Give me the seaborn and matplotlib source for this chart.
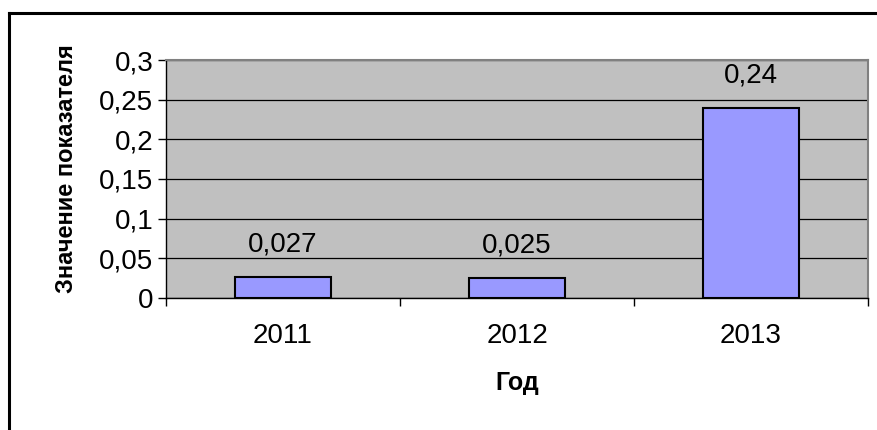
import matplotlib
matplotlib.use("Agg")
import matplotlib.pyplot as plt
from matplotlib.lines import Line2D
import seaborn as sns
import pandas as pd

years = ["2011", "2012", "2013"]
values = [0.027, 0.025, 0.24]
value_labels = ["0,027", "0,025", "0,24"]
y_ticks = [0, 0.05, 0.1, 0.15, 0.2, 0.25, 0.3]
y_tick_labels = ["0", "0,05", "0,1", "0,15", "0,2", "0,25", "0,3"]

plt.rcParams["font.family"] = ["Liberation Sans", "DejaVu Sans"]

W, H = 877, 430
fig = plt.figure(figsize=(W / 100, H / 100), dpi=100)
fig.patch.set_facecolor("white")

# chart-area frame: top and left edges
fig.add_artist(Line2D([9 / W, 1], [1 - 13 / H, 1 - 13 / H], color="black", lw=2.2,
                      transform=fig.transFigure))
fig.add_artist(Line2D([9 / W, 9 / W], [0, 1 - 13 / H], color="black", lw=2.2,
                      transform=fig.transFigure))

left, right, top, bottom = 166, 868, 60, 298
ax = fig.add_axes([left / W, 1 - bottom / H, (right - left) / W, (bottom - top) / H])
ax.set_facecolor("#C0C0C0")

df = pd.DataFrame({"year": years, "value": values})
sns.barplot(data=df, x="year", y="value", color="#9999FF", saturation=1,
            edgecolor="black", linewidth=1.5, width=0.41, ax=ax, zorder=3)

ax.set_xlim(-0.5, 2.5)
ax.set_ylim(0, 0.3)
ax.set_yticks(y_ticks)
ax.set_yticklabels(y_tick_labels, fontsize=20)
ax.yaxis.grid(True, color="black", lw=0.9, zorder=1)
ax.set_axisbelow(True)

ax.set_xticks(range(len(years)))
ax.set_xticklabels(years, fontsize=20)
ax.set_xticks([-0.5, 0.5, 1.5, 2.5], minor=True)
ax.tick_params(axis="x", which="major", length=0, pad=18)
ax.tick_params(axis="x", which="minor", length=6, width=1, color="black")
ax.tick_params(axis="y", length=6, width=1, color="black", pad=3)

for s in ["top", "right"]:
    ax.spines[s].set_color("#808080")
    ax.spines[s].set_linewidth(1.5)
for s in ["left", "bottom"]:
    ax.spines[s].set_color("black")
    ax.spines[s].set_linewidth(1)

for i, (v, lab) in enumerate(zip(values, value_labels)):
    ax.annotate(lab, (i, v), xytext=(0, 14), textcoords="offset points",
                ha="center", va="bottom", fontsize=20)

ax.set_xlabel("Год", fontsize=18, fontweight="bold", labelpad=16)
ax.set_ylabel("Значение показателя", fontsize=17, fontweight="bold")
ax.yaxis.set_label_coords(-88 / (right - left), (bottom - 169) / (bottom - top))

fig.savefig("out.png", dpi=100)
